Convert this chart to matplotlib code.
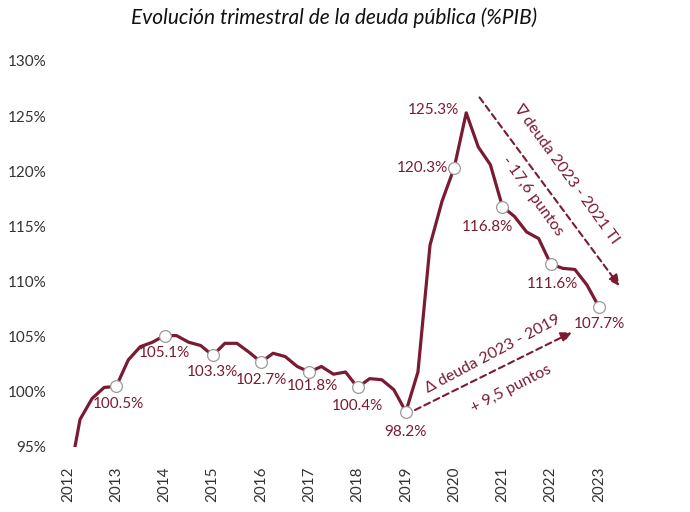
import matplotlib
matplotlib.use("Agg")
import matplotlib.pyplot as plt

plt.rcParams["font.family"] = ["Lato", "DejaVu Sans"]

# Data: quarterly public debt (% of GDP), starting 2012
debt = [91.6, 97.5, 99.4, 100.4, 100.5, 102.9, 104.1, 104.5, 105.1, 105.1,
        104.5, 104.2, 103.3, 104.4, 104.4, 103.6, 102.7, 103.5, 103.2, 102.3,
        101.8, 102.3, 101.6, 101.8, 100.4, 101.2, 101.1, 100.2, 98.2, 101.8,
        113.3, 117.3, 120.3, 125.3, 122.2, 120.6, 116.8, 115.9, 114.5, 113.9,
        111.6, 111.2, 111.1, 109.7, 107.7]
years = [str(y) for y in range(2012, 2024)]
year_idx = [4 * k for k in range(len(years))]
marker_idx = year_idx[1:]
labels = {4: "100.5%", 8: "105.1%", 12: "103.3%", 16: "102.7%", 20: "101.8%",
          24: "100.4%", 28: "98.2%", 32: "120.3%", 33: "125.3%", 36: "116.8%",
          40: "111.6%", 44: "107.7%"}

RED = "#7a1b32"
PX = 1 / 1.389  # pixels -> points

fig = plt.figure(figsize=(6.9, 5.12), dpi=100)
ax = fig.add_axes([60 / 690, 65 / 512, 580 / 690, 386 / 512])

x = list(range(len(debt)))
ax.plot(x, debt, color=RED, lw=2.3, solid_joinstyle="round", zorder=2)
ax.plot(marker_idx, [debt[i] for i in marker_idx], "o", ms=8.5,
        mfc="white", mec="#9a9a9a", mew=0.9, zorder=3)

# label offsets in pixels (dx, dy, ha)
offsets = {4: (2, -18, "center"), 8: (0, -17, "center"), 12: (0, -17, "center"),
           16: (0, -18, "center"), 20: (3, -14, "center"), 24: (0, -19, "center"),
           28: (0, -20, "center"), 32: (-6, 0, "right"), 33: (-7, 3, "right"),
           36: (-15, -20, "center"), 40: (2, -20, "center"), 44: (0, -17, "center")}
for i, txt in labels.items():
    dx, dy, ha = offsets[i]
    ax.annotate(txt, (i, debt[i]), xytext=(dx * PX, dy * PX),
                textcoords="offset points", ha=ha, va="center",
                color=RED, fontsize=11)

# arrows
ap = dict(arrowstyle="-|>", color=RED, lw=1.5, linestyle=(0, (3, 2)),
          mutation_scale=16, shrinkA=0, shrinkB=0)
ax.annotate("", xy=(45.7, 109.6), xytext=(34.1, 126.7), arrowprops=ap)
ax.annotate("", xy=(41.75, 105.4), xytext=(28.75, 98.35), arrowprops=ap)

ax.text(41.3, 119.8, "∇ deuda 2023 - 2021 TI", rotation=-54, color=RED,
        fontsize=11.5, ha="center", va="center", rotation_mode="anchor")
ax.text(38.5, 117.75, "- 17,6 puntos", rotation=-54, color=RED,
        fontsize=11.5, ha="center", va="center", rotation_mode="anchor")
ax.text(35.2, 103.4, "Δ deuda 2023 - 2019", rotation=28, color=RED,
        fontsize=11.5, ha="center", va="center", rotation_mode="anchor")
ax.text(36.7, 100.3, "+ 9,5 puntos", rotation=27, color=RED,
        fontsize=11.5, ha="center", va="center", rotation_mode="anchor")

ax.set_xlim(-0.66, 47.4)
ax.set_ylim(95, 130)
ax.set_yticks(range(95, 131, 5))
ax.set_yticklabels([f"{v}%" for v in range(95, 131, 5)])
ax.set_xticks(year_idx)
ax.set_xticklabels(years, rotation=90)
ax.tick_params(axis="y", length=0, pad=10, labelsize=11, labelcolor="#333333")
ax.tick_params(axis="x", length=0, pad=14, labelsize=11, labelcolor="#333333")
for s in ax.spines.values():
    s.set_visible(False)

fig.text(334 / 690, 1 - 18 / 512, "Evolución trimestral de la deuda pública (%PIB)",
         ha="center", va="center", fontsize=15, style="italic", color="#111111")

fig.savefig("out.png", dpi=100)
